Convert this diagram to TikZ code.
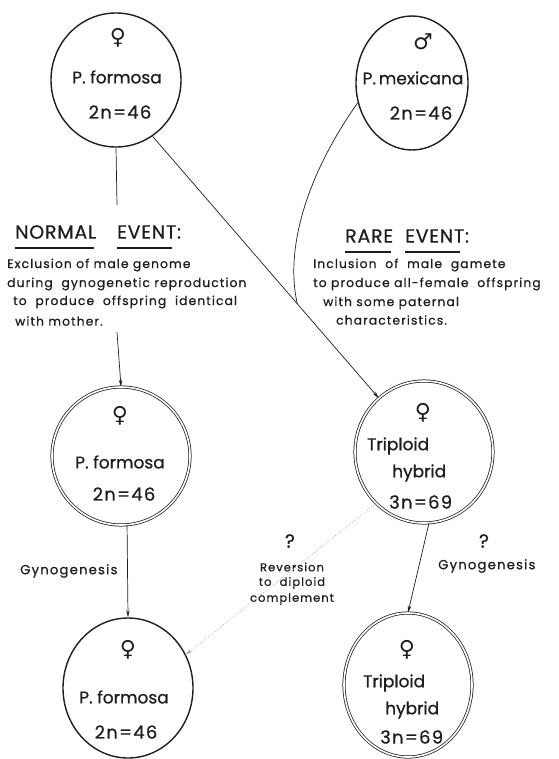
\documentclass[tikz,border=0pt]{standalone}
\usepackage{fontspec}
\setmainfont{Poppins}[FakeBold=0.7]
\newfontfamily\symfont{DejaVu Sans}
\newfontfamily\bodyfont{Poppins}[LetterSpace=9, FakeBold=0.7]
\newfontfamily\headfont{Poppins}[LetterSpace=4, FakeBold=0.6]
\newfontfamily\numfont{Poppins}[LetterSpace=7, FakeBold=0.7]
\usetikzlibrary{arrows.meta,shapes.geometric,calc}
\definecolor{ink}{HTML}{1E1E1E}
\tikzset{
  fish/.style={draw=ink, ellipse, line width=1.4pt, inner sep=0pt},
  fishd/.style={draw=ink, ellipse, double=white, double distance=1.6pt, line width=0.75pt, inner sep=0pt},
  lbl/.style={text=ink, font=\fontsize{17}{17}\selectfont, inner sep=0pt},
  num/.style={text=ink, font=\numfont\fontsize{18}{18}\selectfont, inner sep=0pt},
  sym/.style={text=ink, font=\symfont\fontsize{22}{22}\selectfont, inner sep=0pt},
  head/.style={text=ink, font=\headfont\fontsize{19}{19}\selectfont, inner sep=0pt, anchor=west},
  body/.style={text=ink, font=\bodyfont\fontsize{12.3}{12.3}\selectfont, inner sep=0pt, anchor=west},
  small/.style={text=ink, font=\bodyfont\fontsize{11.5}{11.5}\selectfont, inner sep=0pt},
  conn/.style={draw=ink, line width=0.7pt},
  arr/.style={conn, -{Stealth[length=7pt,width=3.5pt]}},
  ul/.style={draw=ink, line width=1.8pt}
}
\begin{document}
\begin{tikzpicture}[x=1pt,y=-1pt]
\useasboundingbox (0,0) rectangle (558,759);

% circles
\node[fish, minimum width=130, minimum height=134] (pf1) at (116,80) {};
\node[fish, minimum width=112, minimum height=134] (mex) at (412,83) {};
\node[fishd, minimum width=138, minimum height=138] (pf2) at (121,456) {};
\node[fishd, minimum width=138, minimum height=142] (trip1) at (424,452) {};
\node[fish, minimum width=130, minimum height=140] (pf3) at (128,688) {};
\node[fishd, minimum width=128, minimum height=144] (trip2) at (408,685) {};

% circle texts
\node[sym] (s1) at (118,38) {♀};
\node[lbl] (t1a) at (117,77) {P. formosa};
\node[num] (t1b) at (120,112) {2n=46};

\node[sym] (s2) at (423,42) {♂};
\node[lbl] (t2a) at (413,78) {P.\,mexicana};
\node[num] (t2b) at (421,113) {2n=46};

\node[sym] (s3) at (120,416) {♀};
\node[lbl] (t3a) at (120,462) {P. formosa};
\node[num] (t3b) at (124,494) {2n=46};

\node[sym] (s4) at (423,413) {♀};
\node[lbl, anchor=west] (t4a) at (367,446) {Triploid};
\node[lbl, anchor=west] (t4b) at (392,473) {hybrid};
\node[num, anchor=west] (t4c) at (389,502) {3n=69};

\node[sym] (s5) at (128,650) {♀};
\node[lbl] (t5a) at (124,697) {P. formosa};
\node[num] (t5b) at (126,732) {2n=46};

\node[sym] (s6) at (407,650) {♀};
\node[lbl, anchor=west] (t6a) at (363,683) {Triploid};
\node[lbl, anchor=west] (t6b) at (385,710) {hybrid};
\node[num, anchor=west] (t6c) at (380,737) {3n=69};

% headings
\node[head] (n1) at (15,232) {NORMAL};
\node[head] (n2) at (117,232) {EVENT:};
\draw[ul] ($(n1.south west)+(0,9)$) coordinate (u1) -- ($(n1.south east)+(-2,9)$) coordinate (u2);
\draw[ul] ($(n2.south west)+(0,9)$) coordinate (u3) -- ($(n2.south east)+(-9,9)$) coordinate (u4);
\node[head] (r1) at (345,236) {RARE};
\node[head] (r2) at (405,236) {EVENT:};
\draw[ul] ($(r1.south west)+(0,9)$) coordinate (u5) -- ($(r1.south east)+(-2,9)$) coordinate (u6);
\draw[ul] ($(r2.south west)+(0,9)$) coordinate (u7) -- ($(r2.south east)+(-9,9)$) coordinate (u8);

% body texts
\node[body] (b1) at (7,265) {Exclusion of male genome};
\node[body] (b2) at (7,284) {during\ \ gynogenetic reproduction};
\node[body] (b3) at (13,302) {to\ \ produce\ \ offspring\ \ identical};
\node[body] (b4) at (15,321) {with mother.};

\node[body] (c1) at (313,265) {Inclusion\ \ of\ \ male\ \ gamete};
\node[body] (c2) at (313,284) {to produce all-female\ \ offspring};
\node[body] (c3) at (323,303) {with some paternal};
\node[body] (c4) at (336,320) {characteristics.};

% process labels
\node[body, font=\bodyfont\fontsize{13.2}{13.2}\selectfont] (g1) at (20,571) {Gynogenesis};
\node[body, font=\bodyfont\fontsize{13.2}{13.2}\selectfont] (g2) at (438,566) {Gynogenesis};
\node[lbl, font=\fontsize{19}{19}\selectfont] (q1) at (290,541) {?};
\node[lbl, font=\fontsize{19}{19}\selectfont] (q2) at (484,541) {?};
\node[small] (rv1) at (292,567) {Reversion};
\node[small] (rv2) at (292,583) {to\ \ diploid};
\node[small] (rv3) at (292,599) {complement};

% connectors
\coordinate (e1) at (117,205);
\coordinate (e2) at (117,332);
\draw[conn] (pf1.south) -- (e1);
\draw[arr] (e2) -- (pf2.north);
\draw[arr] (pf1.-57) -- (trip1.130);
\coordinate (m) at ($(pf1.-57)!0.64!(trip1.130)$);
\draw[conn] (mex.200) .. controls (310,170) and (284,245) .. (m);
\draw[arr] (pf2.-85) -- (pf3.north);
\draw[arr] (trip1.-86) -- (trip2.north);
\draw[conn, draw=gray!70, dotted, line width=0.8pt, -{Stealth[length=7pt,width=3.5pt]}] (trip1.227) -- (pf3.30);
\end{tikzpicture}
\end{document}
